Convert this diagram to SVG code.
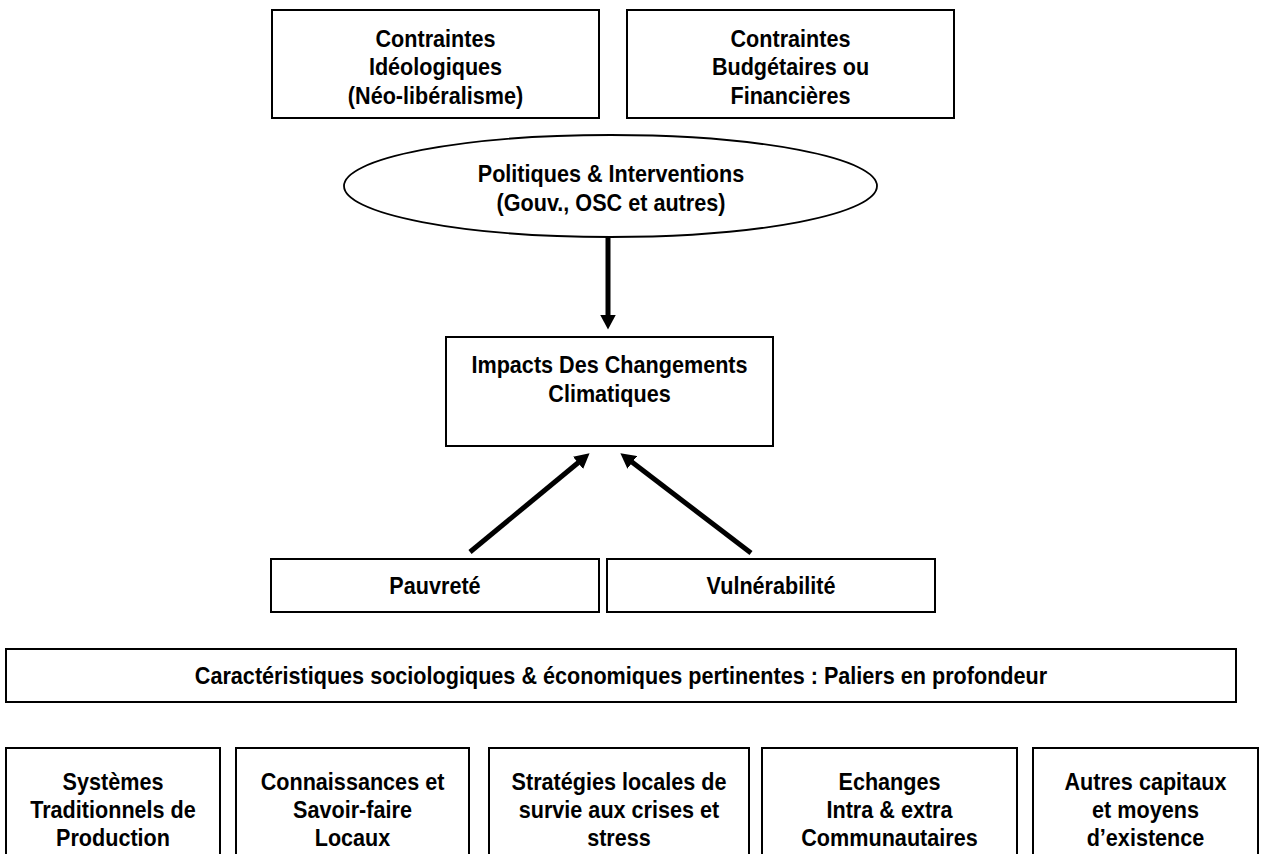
<svg xmlns="http://www.w3.org/2000/svg" width="1261" height="854" viewBox="0 0 1261 854">
<style>
  .box{fill:#fff;stroke:#000;stroke-width:2}
  .ell{fill:#fff;stroke:#000;stroke-width:1.8}
  .t{font-family:"Liberation Sans",Arial,Helvetica,sans-serif;font-weight:bold;font-size:23.5px;fill:#000;text-anchor:middle}
  .arr{stroke:#000;stroke-width:5;fill:none;marker-end:url(#ah)}
</style>
<defs>
  <marker id="ah" markerUnits="userSpaceOnUse" viewBox="0 0 15 16" markerWidth="15" markerHeight="16" refX="0.5" refY="8" orient="auto">
    <path d="M0,0 L15,8 L0,16 z" fill="#000"/>
  </marker>
</defs>
<rect width="1261" height="854" fill="#fff"/>

<g id="contraintes-ideologiques">
  <rect class="box" x="272" y="10" width="327" height="108"/>
  <g transform="translate(435.5,0) scale(0.92,1)">
    <text class="t" x="0" y="47">Contraintes</text>
    <text class="t" x="0" y="75">Idéologiques</text>
    <text class="t" x="0" y="104">(Néo-libéralisme)</text>
  </g>
</g>

<g id="contraintes-budgetaires">
  <rect class="box" x="627" y="10" width="327" height="108"/>
  <g transform="translate(790.5,0) scale(0.92,1)">
    <text class="t" x="0" y="47">Contraintes</text>
    <text class="t" x="0" y="75">Budgétaires ou</text>
    <text class="t" x="0" y="104">Financières</text>
  </g>
</g>

<g id="politiques">
  <ellipse class="ell" cx="610.5" cy="186" rx="266.5" ry="51"/>
  <g transform="translate(611,0) scale(0.92,1)">
    <text class="t" x="0" y="182">Politiques &amp; Interventions</text>
    <text class="t" x="0" y="211">(Gouv., OSC et autres)</text>
  </g>
</g>

<g id="impacts">
  <rect class="box" x="446" y="337" width="327" height="109"/>
  <g transform="translate(609.5,0) scale(0.92,1)">
    <text class="t" x="0" y="373">Impacts Des Changements</text>
    <text class="t" x="0" y="402">Climatiques</text>
  </g>
</g>

<g id="pauvrete">
  <rect class="box" x="271" y="559" width="328" height="53"/>
  <g transform="translate(435,0) scale(0.92,1)">
    <text class="t" x="0" y="594">Pauvreté</text>
  </g>
</g>

<g id="vulnerabilite">
  <rect class="box" x="607" y="559" width="328" height="53"/>
  <g transform="translate(771,0) scale(0.92,1)">
    <text class="t" x="0" y="594">Vulnérabilité</text>
  </g>
</g>

<g id="caracteristiques">
  <rect class="box" x="6" y="649" width="1230" height="53"/>
  <g transform="translate(621,0) scale(0.92,1)">
    <text class="t" x="0" y="684">Caractéristiques sociologiques &amp; économiques pertinentes : Paliers en profondeur</text>
  </g>
</g>

<g id="systemes">
  <rect class="box" x="6" y="748" width="214" height="130"/>
  <g transform="translate(113,0) scale(0.92,1)">
    <text class="t" x="0" y="790">Systèmes</text>
    <text class="t" x="0" y="818">Traditionnels de</text>
    <text class="t" x="0" y="846">Production</text>
  </g>
</g>

<g id="connaissances">
  <rect class="box" x="236" y="748" width="233" height="130"/>
  <g transform="translate(352.5,0) scale(0.92,1)">
    <text class="t" x="0" y="790">Connaissances et</text>
    <text class="t" x="0" y="818">Savoir-faire</text>
    <text class="t" x="0" y="846">Locaux</text>
  </g>
</g>

<g id="strategies">
  <rect class="box" x="489" y="748" width="260" height="130"/>
  <g transform="translate(619,0) scale(0.92,1)">
    <text class="t" x="0" y="790">Stratégies locales de</text>
    <text class="t" x="0" y="818">survie aux crises et</text>
    <text class="t" x="0" y="846">stress</text>
  </g>
</g>

<g id="echanges">
  <rect class="box" x="762" y="748" width="255" height="130"/>
  <g transform="translate(889.5,0) scale(0.92,1)">
    <text class="t" x="0" y="790">Echanges</text>
    <text class="t" x="0" y="818">Intra &amp; extra</text>
    <text class="t" x="0" y="846">Communautaires</text>
  </g>
</g>

<g id="autres">
  <rect class="box" x="1033" y="748" width="225" height="130"/>
  <g transform="translate(1145.5,0) scale(0.92,1)">
    <text class="t" x="0" y="790">Autres capitaux</text>
    <text class="t" x="0" y="818">et moyens</text>
    <text class="t" x="0" y="846">d’existence</text>
  </g>
</g>

<g id="connectors">
  <line class="arr" x1="608" y1="237" x2="608" y2="315"/>
  <line class="arr" x1="470" y1="552" x2="578.4" y2="462.5"/>
  <line class="arr" x1="751" y1="553" x2="631.9" y2="462.1"/>
</g>
</svg>
